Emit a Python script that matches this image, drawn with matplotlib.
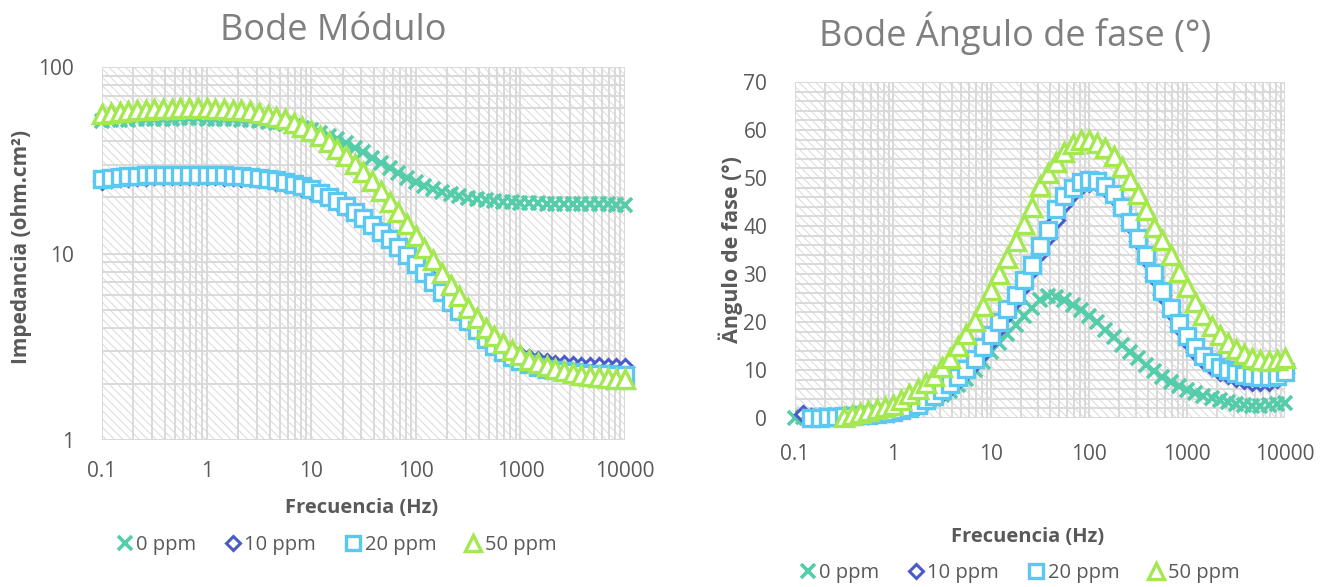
import numpy as np
import matplotlib
matplotlib.use("Agg")
import matplotlib.pyplot as plt
from matplotlib.ticker import LogLocator, FixedLocator, MultipleLocator, NullFormatter
from matplotlib.lines import Line2D
from matplotlib.patches import Rectangle

plt.rcParams['font.family'] = ['Open Sans', 'DejaVu Sans']
plt.rcParams['hatch.linewidth'] = 0.8
plt.rcParams['hatch.color'] = '#DEDEDE'

# ---------------- data ----------------
freq = [0.1, 0.121, 0.147, 0.178, 0.215, 0.261, 0.316, 0.383, 0.464, 0.562, 0.681, 0.825,
        1, 1.21, 1.47, 1.78, 2.15, 2.61, 3.16, 3.83, 4.64, 5.62, 6.81, 8.25,
        10, 12.1, 14.7, 17.8, 21.5, 26.1, 31.6, 38.3, 46.4, 56.2, 68.1, 82.5,
        100, 121, 147, 178, 215, 261, 316, 383, 464, 562, 681, 825,
        1000, 1210, 1470, 1780, 2150, 2610, 3160, 3830, 4640, 5620, 6810, 8250,
        10000]

series_labels = ['0 ppm', '10 ppm', '20 ppm', '50 ppm']

mod_0 = [51.5, 51.8, 52.0, 52.2, 52.4, 52.6, 52.7, 52.8, 52.9, 53.0, 53.0, 53.0,
         52.9, 52.8, 52.6, 52.4, 52.1, 51.8, 51.3, 50.8, 50.1, 49.4, 48.4, 47.3,
         46.0, 44.5, 42.8, 41.0, 39.0, 36.9, 34.8, 32.7, 30.7, 28.8, 27.0, 25.5,
         24.2, 23.1, 22.2, 21.4, 20.8, 20.3, 19.9, 19.6, 19.3, 19.1, 18.9, 18.8,
         18.7, 18.6, 18.6, 18.5, 18.5, 18.5, 18.4, 18.4, 18.4, 18.4, 18.4, 18.3,
         18.3]
mod_10 = [24.6, 25.0, 25.3, 25.5, 25.7, 25.8, 25.9, 26.0, 26.0, 26.1, 26.1, 26.1,
          26.0, 25.9, 25.8, 25.7, 25.5, 25.3, 25.0, 24.7, 24.3, 23.8, 23.2, 22.5,
          21.7, 20.8, 19.9, 18.9, 17.8, 16.7, 15.5, 14.3, 13.2, 12.1, 11.0, 10.0,
          9.0, 8.1, 7.2, 6.4, 5.7, 5.1, 4.55, 4.1, 3.7, 3.4, 3.15, 2.97,
          2.84, 2.74, 2.67, 2.61, 2.57, 2.54, 2.52, 2.50, 2.49, 2.48, 2.47, 2.46,
          2.46]
mod_20 = [25.0, 25.4, 25.7, 25.9, 26.1, 26.2, 26.3, 26.4, 26.4, 26.5, 26.5, 26.5,
          26.4, 26.3, 26.2, 26.1, 25.9, 25.7, 25.4, 25.1, 24.7, 24.2, 23.6, 22.9,
          22.1, 21.2, 20.2, 19.1, 17.9, 16.7, 15.5, 14.3, 13.1, 12.0, 10.9, 9.8,
          8.8, 7.9, 7.0, 6.2, 5.5, 4.9, 4.35, 3.9, 3.5, 3.2, 2.95, 2.78,
          2.64, 2.54, 2.47, 2.41, 2.37, 2.33, 2.31, 2.29, 2.27, 2.26, 2.25, 2.24,
          2.23]
mod_50 = [56.0, 56.8, 57.5, 58.1, 58.6, 59.0, 59.4, 59.7, 59.9, 60.0, 60.1, 60.1,
          60.0, 59.8, 59.5, 59.1, 58.5, 57.8, 56.8, 55.6, 54.1, 52.3, 50.2, 47.8,
          45.2, 42.4, 39.5, 36.5, 33.4, 30.3, 27.3, 24.4, 21.6, 19.0, 16.6, 14.4,
          12.4, 10.7, 9.2, 7.9, 6.8, 5.9, 5.1, 4.5, 4.0, 3.6, 3.3, 3.05,
          2.85, 2.70, 2.58, 2.48, 2.40, 2.33, 2.28, 2.23, 2.20, 2.17, 2.15, 2.13,
          2.12]

nan = float('nan')
ph_0 = [0.1, 0.2, 0.3, 0.4, 0.5, 0.6, 0.7, 0.8, 0.9, 1.0, 1.2, 1.4,
        1.7, 2.0, 2.4, 2.9, 3.4, 4.0, 4.8, 5.7, 6.8, 8.2, 9.9, 11.7,
        13.7, 15.6, 17.5, 19.4, 21.2, 23.0, 24.5, 25.4, 25.3, 24.6, 23.5, 22.5,
        21.3, 19.9, 18.4, 16.9, 15.3, 13.8, 12.4, 11.0, 9.8, 8.6, 7.6, 6.7,
        5.9, 5.2, 4.6, 4.1, 3.7, 3.3, 3.0, 2.8, 2.6, 2.6, 2.7, 2.9,
        3.2]
ph_10 = [nan, 0.8, 0.3, 0.2, 0.2, 0.3, 0.4, 0.5, 0.6, 0.7, 0.8, 0.95,
         1.1, 1.5, 1.9, 2.5, 3.3, 4.2, 5.3, 6.5, 7.9, 9.5, 11.4, 13.6,
         16.1, 18.8, 21.6, 24.5, 27.6, 30.8, 34.3, 37.8, 41.3, 44.5, 46.9, 48.4,
         49.0, 48.9, 47.9, 46.1, 43.5, 40.3, 36.8, 33.1, 29.3, 25.6, 22.1, 18.9,
         16.1, 13.8, 12.0, 10.6, 9.6, 8.9, 8.3, 7.9, 7.6, 7.5, 7.6, 8.2,
         9.4]
ph_20 = [nan, nan, 0.0, 0.1, 0.2, 0.3, 0.4, 0.5, 0.6, 0.7, 0.85, 1.0,
         1.2, 1.6, 2.1, 2.7, 3.8, 4.6, 5.9, 7.1, 8.6, 10.3, 12.3, 14.7,
         17.3, 20.0, 22.8, 25.7, 28.7, 31.8, 35.8, 39.2, 43.5, 46.2, 48.0, 49.2,
         49.6, 49.4, 48.4, 46.6, 44.0, 40.9, 37.5, 33.9, 30.2, 26.5, 23.0, 19.8,
         17.0, 14.7, 12.9, 11.6, 10.6, 9.9, 9.4, 9.0, 8.7, 8.5, 8.5, 8.8,
         9.6]
ph_50 = [nan, nan, nan, nan, nan, nan, 0.3, 0.7, 1.1, 1.5, 1.9, 2.3,
         2.8, 3.8, 4.9, 6.0, 7.3, 8.8, 10.6, 12.5, 14.9, 17.5, 20.3, 23.4,
         26.7, 30.0, 33.4, 36.9, 40.5, 44.0, 48.3, 51.0, 53.3, 55.5, 57.0, 57.9,
         57.9, 57.3, 56.2, 54.5, 52.3, 49.6, 46.6, 43.3, 39.8, 37.0, 33.9, 30.5,
         27.2, 24.2, 21.5, 19.2, 17.3, 15.7, 14.4, 13.4, 12.6, 12.1, 11.9, 12.0,
         12.4]

x_ticks = [0.1, 1, 10, 100, 1000, 10000]
x_ticklabels = ['0.1', '1', '10', '100', '1000', '10000']
mod_ticks = [1, 10, 100]
mod_ticklabels = ['1', '10', '100']
ph_ticks = [0, 10, 20, 30, 40, 50, 60, 70]

# ---------------- styles ----------------
styles = [
    dict(marker='x', color='#55CCAA', ms=10.5, mew=2.6, mfc='none'),
    dict(marker='D', color='#4A5BC9', ms=8.5, mew=2.2, mfc='white'),
    dict(marker='s', color='#5BC8F2', ms=11, mew=2.4, mfc='white'),
    dict(marker='^', color='#A3E84E', ms=13, mew=2.4, mfc='white'),
]
legend_ms = [9.5, 7.5, 9.5, 11]
txt_col = '#595959'
grid_col = '#D9D9D9'

W, H = 1328, 587
fig = plt.figure(figsize=(W / 100, H / 100), dpi=100)

def px_axes(x0, x1, y0, y1):
    return fig.add_axes([x0 / W, 1 - y1 / H, (x1 - x0) / W, (y1 - y0) / H])

ax1 = px_axes(102, 625, 67, 440)
ax2 = px_axes(795, 1285, 82, 418)

for ax in (ax1, ax2):
    ax.set_facecolor('white')
    ax.add_patch(Rectangle((0, 0), 1, 1, transform=ax.transAxes, facecolor='white',
                           edgecolor='#DEDEDE', hatch='\\\\\\\\', lw=0, zorder=0))
    for s in ax.spines.values():
        s.set_visible(False)
    ax.set_xscale('log')
    ax.set_xlim(0.1, 10000)
    ax.xaxis.set_major_locator(FixedLocator(x_ticks))
    ax.set_xticklabels(x_ticklabels)
    ax.xaxis.set_minor_locator(LogLocator(base=10, subs=[2, 3, 4, 5, 6, 7, 8, 9], numticks=20))
    ax.xaxis.set_minor_formatter(NullFormatter())
    ax.grid(True, which='both', color=grid_col, lw=1.4, zorder=1)
    ax.set_axisbelow(True)
    ax.tick_params(which='both', length=0, labelsize=15, labelcolor=txt_col)

# Left: module
ax1.set_yscale('log')
ax1.set_ylim(1, 100)
ax1.yaxis.set_major_locator(FixedLocator(mod_ticks))
ax1.set_yticklabels(mod_ticklabels)
ax1.yaxis.set_minor_locator(LogLocator(base=10, subs=[2, 3, 4, 5, 6, 7, 8, 9], numticks=20))
ax1.yaxis.set_minor_formatter(NullFormatter())
ax1.tick_params(axis='x', pad=15)
ax1.tick_params(axis='y', pad=20)
for vals, st, lab in zip([mod_0, mod_10, mod_20, mod_50], styles, series_labels):
    ax1.plot(freq, vals, linestyle='none', label=lab, clip_on=False, zorder=3, **st)

# Right: phase
ax2.set_ylim(0, 70)
ax2.yaxis.set_major_locator(FixedLocator(ph_ticks))
ax2.yaxis.set_minor_locator(MultipleLocator(2))
ax2.tick_params(axis='x', pad=19)
ax2.tick_params(axis='y', pad=20)
for vals, st, lab in zip([ph_0, ph_10, ph_20, ph_50], styles, series_labels):
    ax2.plot(freq, vals, linestyle='none', label=lab, clip_on=False, zorder=3, **st)

# Titles and labels
fig.text(333 / W, 1 - 31 / H, 'Bode Módulo', ha='center', va='center', fontsize=26, color='#7F7F7F')
fig.text(1015 / W, 1 - 33 / H, 'Bode Ángulo de fase (°)', ha='center', va='center', fontsize=26, color='#7F7F7F')
fig.text(362 / W, 1 - 508 / H, 'Frecuencia (Hz)', ha='center', va='center', fontsize=14.5,
         fontweight='bold', color=txt_col)
fig.text(1028 / W, 1 - 537 / H, 'Frecuencia (Hz)', ha='center', va='center', fontsize=14.5,
         fontweight='bold', color=txt_col)
fig.text(22 / W, 1 - 247 / H, 'Impedancia (ohm.cm²)', ha='center', va='center', rotation=90,
         fontsize=15, fontweight='bold', color=txt_col)
fig.text(731 / W, 1 - 250 / H, 'Ängulo de fase (°)', ha='center', va='center', rotation=90,
         fontsize=15.5, fontweight='bold', color=txt_col)

def legend_handles():
    hs = []
    for st, lab, ms in zip(styles, series_labels, legend_ms):
        d = dict(st)
        d['ms'] = ms
        hs.append(Line2D([], [], linestyle='none', label=lab, **d))
    return hs

fig.legend(handles=legend_handles(), loc='center', bbox_to_anchor=(335 / W, 1 - 545 / H), ncol=4,
           frameon=False, fontsize=14.5, labelcolor=txt_col, handletextpad=0.0, columnspacing=1.3,
           handlelength=1.1)
fig.legend(handles=legend_handles(), loc='center', bbox_to_anchor=(1018 / W, 1 - 573 / H), ncol=4,
           frameon=False, fontsize=14.5, labelcolor=txt_col, handletextpad=0.0, columnspacing=1.3,
           handlelength=1.1)

fig.savefig('out.png', dpi=100)
